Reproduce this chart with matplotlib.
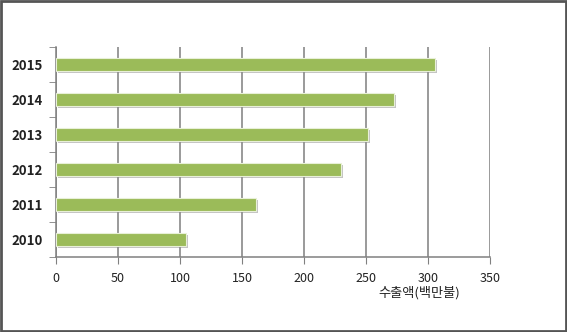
import matplotlib
matplotlib.use("Agg")
import matplotlib.pyplot as plt
import matplotlib.patheffects as pe
from matplotlib.patches import Rectangle

plt.rcParams['font.family'] = ['Noto Sans CJK KR', 'DejaVu Sans']

years = ['2010', '2011', '2012', '2013', '2014', '2015']
exports = [104.5, 161.2, 229.9, 251.4, 272.8, 305.9]
x_ticks = [0, 50, 100, 150, 200, 250, 300, 350]
x_label = '수출액(백만불)'

fig = plt.figure(figsize=(5.67, 3.32), dpi=100)
ax = fig.add_axes([0.0988, 0.226, 0.7654, 0.6325])

pos = list(range(len(years)))
bars = ax.barh(pos, exports, height=0.37, color='#9BBB59',
               edgecolor='#e8f0d8', linewidth=0.8, zorder=3)
for b in bars:
    b.set_path_effects([pe.SimplePatchShadow(offset=(1.5, -1.5), shadow_rgbFace='#888888', alpha=0.5),
                        pe.Normal()])

ax.set_xlim(0, 350)
ax.set_ylim(-0.5, len(years) - 0.5)
ax.set_xticks(x_ticks)
ax.set_xticklabels([str(t) for t in x_ticks], fontsize=9, color='#222222')
ax.set_yticks(pos)
ax.set_yticklabels(years, fontsize=9.5, color='#222222', fontweight='bold')
ax.set_yticks([p - 0.5 for p in range(len(years) + 1)], minor=True)
ax.tick_params(axis='y', which='major', length=0, pad=9.5)
ax.tick_params(axis='y', which='minor', length=5, color='#808080', direction='out')
ax.tick_params(axis='x', length=5, color='#808080', direction='out', pad=6)

ax.grid(axis='x', color='#7f7f7f', linewidth=1.1, zorder=0)
for s in ['top', 'right']:
    ax.spines[s].set_visible(False)
ax.spines['left'].set_color('#808080')
ax.spines['bottom'].set_color('#808080')
ax.spines['left'].set_linewidth(1.1)
ax.spines['bottom'].set_linewidth(1.1)

fig.text(0.812, 0.117, x_label, fontsize=9.5, color='#222222', ha='right', va='center')

fig.patches.append(Rectangle((0.001, 0.004), 0.997, 0.993, transform=fig.transFigure,
                             fill=False, edgecolor='#555555', linewidth=2))

fig.savefig('out.png', dpi=100)
